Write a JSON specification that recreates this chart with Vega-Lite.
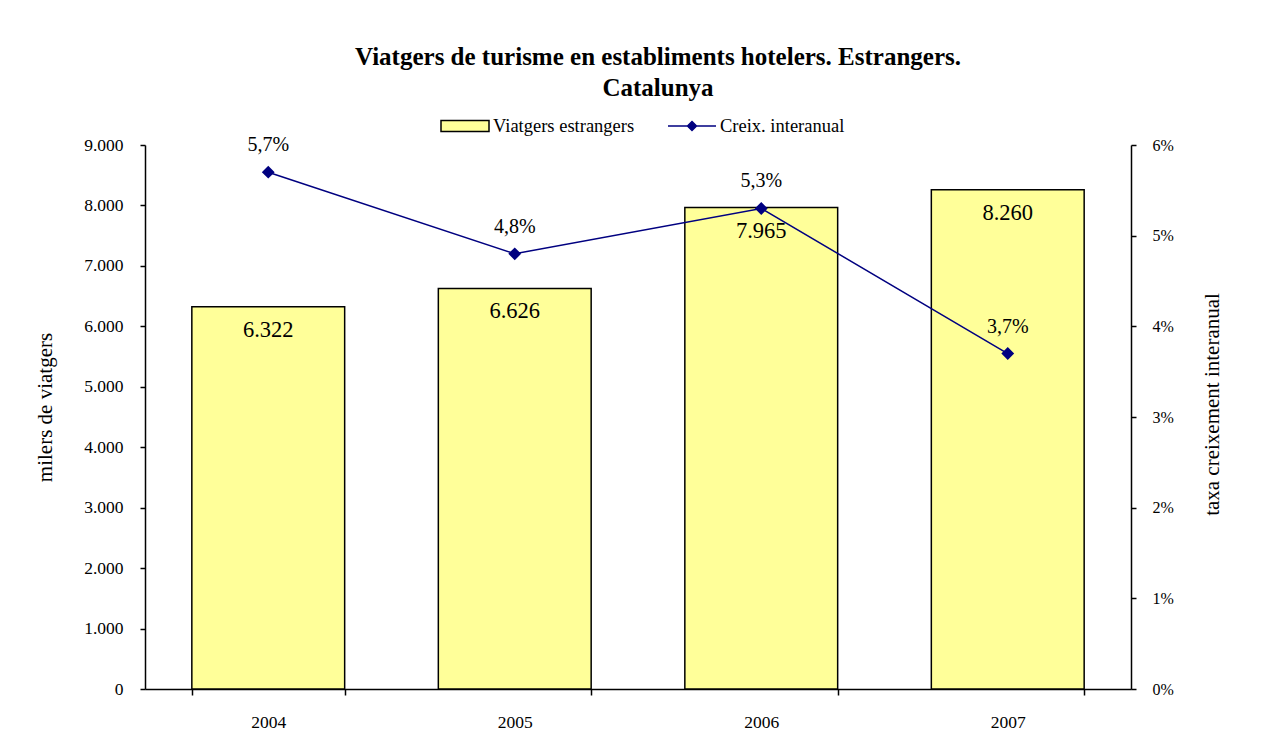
{
  "$schema": "https://vega.github.io/schema/vega-lite/v6.json",
  "autosize": {"type": "none"},
  "padding": {"left": 145, "top": 145, "right": 131, "bottom": 60},
  "width": 986,
  "height": 544,
  "background": "white",
  "config": {
    "locale": {"number": {"decimal": ",", "thousands": ".", "grouping": [3], "currency": ["", " €"]}},
    "font": "Liberation Serif",
    "view": {"stroke": null},
    "axis": {"labelFont": "Liberation Serif", "titleFont": "Liberation Serif", "labelColor": "black", "titleColor": "black", "domainColor": "black", "tickColor": "black", "domainWidth": 1.5, "tickWidth": 1.5, "grid": false, "titleFontWeight": "normal"},
    "legend": {"labelFont": "Liberation Serif", "labelFontSize": 18.5, "labelColor": "black"}
  },
  "title": {
    "text": ["Viatgers de turisme en establiments hotelers. Estrangers.", "Catalunya"],
    "font": "Liberation Serif",
    "fontSize": 25,
    "fontWeight": "bold",
    "color": "black",
    "anchor": "middle",
    "dx": 20,
    "lineHeight": 31,
    "offset": 14
  },
  "data": {"values": [
    {"year": "2004", "viatgers": 6322, "creix": 0.057},
    {"year": "2005", "viatgers": 6626, "creix": 0.048},
    {"year": "2006", "viatgers": 7965, "creix": 0.053},
    {"year": "2007", "viatgers": 8260, "creix": 0.037}
  ]},
  "encoding": {
    "x": {"field": "year", "type": "ordinal", "title": null,
      "scale": {"paddingInner": 0.38, "paddingOuter": 0.19},
      "axis": {"labelAngle": 0, "labelFontSize": 17.5, "labelPadding": 18, "tickSize": 6, "tickBand": "extent"}}
  },
  "layer": [
    {
      "layer": [
        {
          "mark": {"type": "bar", "stroke": "black", "strokeWidth": 1.5},
          "encoding": {
            "y": {"field": "viatgers", "type": "quantitative", "title": "milers de viatgers",
              "scale": {"domain": [0, 9000], "nice": false},
              "axis": {"values": [0,1000,2000,3000,4000,5000,6000,7000,8000,9000], "format": ",.0f", "labelFontSize": 17.5, "labelPadding": 17, "tickSize": 5, "titleFontSize": 21, "titlePadding": 28, "titleY": 262}},
            "fill": {"datum": "Viatgers estrangers", "type": "nominal",
              "scale": {"domain": ["Viatgers estrangers"], "range": ["#FFFF99"]},
              "legend": {"title": null, "orient": "none", "legendX": 309, "legendY": -30,
                "symbolType": "M-2.4,-0.55H2.4V0.55H-2.4Z", "symbolSize": 400,
                "symbolStrokeColor": "black", "symbolStrokeWidth": 1.5, "labelOffset": 17}}
          }
        },
        {
          "mark": {"type": "text", "baseline": "middle", "dy": 23, "fontSize": 22.5, "font": "Liberation Serif", "color": "black"},
          "encoding": {
            "y": {"field": "viatgers", "type": "quantitative"},
            "text": {"field": "viatgers", "type": "quantitative", "format": ",.0f"}
          }
        }
      ]
    },
    {
      "layer": [
        {
          "mark": {"type": "line", "strokeWidth": 1.5, "color": "#000080",
            "point": {"shape": "diamond", "size": 100, "filled": true, "color": "#000080"}},
          "encoding": {
            "y": {"field": "creix", "type": "quantitative", "title": "taxa creixement interanual",
              "scale": {"domain": [0, 0.06], "nice": false},
              "axis": {"orient": "right", "values": [0,0.01,0.02,0.03,0.04,0.05,0.06], "format": ".0%", "labelFontSize": 16, "labelPadding": 16, "tickSize": 5, "titleFontSize": 21, "titlePadding": 28, "titleAngle": 270, "titleBaseline": "top", "titleY": 259}},
            "stroke": {"datum": "Creix. interanual", "type": "nominal",
              "scale": {"domain": ["Creix. interanual"], "range": ["#000080"]},
              "legend": {"title": null, "orient": "none", "legendX": 536, "legendY": -30,
                "symbolType": "M-2.4,0H2.4M0,-0.45L0.45,0L0,0.45L-0.45,0Z", "symbolSize": 400,
                "symbolFillColor": "#000080", "symbolStrokeColor": "#000080", "symbolStrokeWidth": 1.5, "labelOffset": 17}}
          }
        },
        {
          "mark": {"type": "text", "baseline": "middle", "dy": -27, "fontSize": 20, "font": "Liberation Serif", "color": "black"},
          "encoding": {
            "y": {"field": "creix", "type": "quantitative"},
            "text": {"field": "creix", "type": "quantitative", "format": ".1%"}
          }
        }
      ]
    }
  ],
  "resolve": {"scale": {"y": "independent", "fill": "independent", "stroke": "independent"}}
}
